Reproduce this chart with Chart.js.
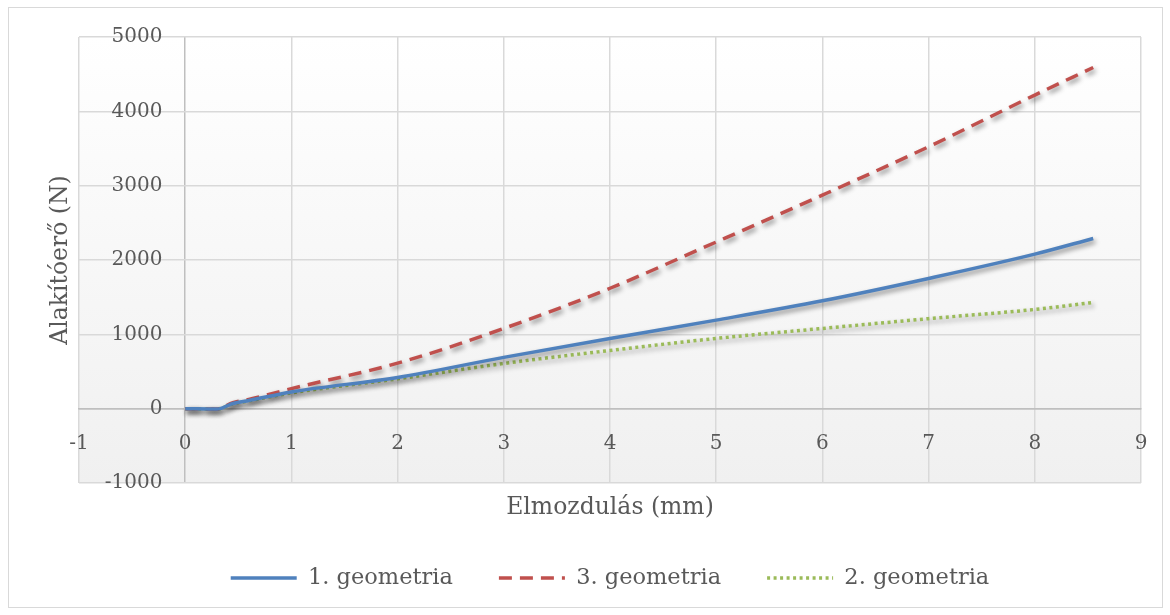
<!DOCTYPE html>
<html lang="hu">
<head>
<meta charset="utf-8">
<title>Alakítóerő – elmozdulás</title>
<script src="https://cdn.jsdelivr.net/npm/chart.js@4.4.0/dist/chart.umd.min.js"></script>
<style>
  html, body { margin: 0; padding: 0; background: #fff; }
  canvas { display: block; }
</style>
</head>
<body>
<canvas id="forceChart" width="1170" height="615"></canvas>
<script>
// Elmozdulás (mm) - közös x értékek
const displacement = [0, 0.3, 0.45, 0.6, 1, 2, 3, 4, 5, 6, 7, 8, 8.55];

// Alakítóerő (N) sorozatonként
const geom1 = [0, -5, 70, 110, 225, 420, 690, 945, 1191, 1451, 1752, 2079, 2290];
const geom3 = [0, -5, 80, 125, 270, 612, 1079, 1620, 2242, 2873, 3524, 4219, 4590];
const geom2 = [0, -5, 65, 105, 212, 401, 608, 783, 945, 1079, 1211, 1335, 1429];

const seriesNames = ['1. geometria', '3. geometria', '2. geometria'];

// tengely feliratok
const xTickValues = [-1, 0, 1, 2, 3, 4, 5, 6, 7, 8, 9];
const yTickValues = [-1000, 0, 1000, 2000, 3000, 4000, 5000];

const FONT = 'DejaVu Serif';
const TEXT_COLOR = '#595959';
const GRID_COLOR = '#d9d9d9';
const AXIS_COLOR = '#bfbfbf';

function toPoints(ys) {
    return displacement.map((x, i) => ({ x: x, y: ys[i] }));
}

// háttér: keret + színátmenetes rajzterület
const plotBackground = {
    id: 'plotBackground',
    beforeDraw(chart) {
        const { ctx, chartArea: a, width, height } = chart;
        ctx.save();
        ctx.fillStyle = '#ffffff';
        ctx.fillRect(0, 0, width, height);
        ctx.strokeStyle = GRID_COLOR;
        ctx.lineWidth = 1;
        ctx.strokeRect(8.5, 7.5, width - 16, height - 15);
        const g = ctx.createLinearGradient(0, a.top, 0, a.bottom);
        g.addColorStop(0, '#ffffff');
        g.addColorStop(1, '#f0f0f0');
        ctx.fillStyle = g;
        ctx.fillRect(a.left, a.top, a.right - a.left, a.bottom - a.top);
        ctx.restore();
    }
};

// árnyék a vonalak alatt
const lineShadow = {
    id: 'lineShadow',
    beforeDatasetDraw(chart) {
        const ctx = chart.ctx;
        ctx.save();
        ctx.shadowColor = 'rgba(0, 0, 0, 0.45)';
        ctx.shadowBlur = 5;
        ctx.shadowOffsetX = 2;
        ctx.shadowOffsetY = 3;
    },
    afterDatasetDraw(chart) {
        chart.ctx.restore();
    }
};

const gridColor = c => (c.tick && c.tick.value === 0 ? AXIS_COLOR : GRID_COLOR);

// jelmagyarázat: a vonal mintája az adatsor szaggatását kövesse
function legendLabels(chart) {
    return Chart.defaults.plugins.legend.labels.generateLabels(chart).map(item => {
        const ds = chart.data.datasets[item.datasetIndex];
        item.lineDash = ds.borderDash || [];
        item.lineWidth = ds.borderWidth;
        item.strokeStyle = ds.borderColor;
        item.lineCap = 'butt';
        return item;
    });
}

const ctx = document.getElementById('forceChart').getContext('2d');

const forceChart = new Chart(ctx, {
    type: 'line',
    data: {
        datasets: [
            {
                label: seriesNames[0],
                data: toPoints(geom1),
                borderColor: '#4f81bd',
                backgroundColor: '#4f81bd',
                borderWidth: 3.5
            },
            {
                label: seriesNames[1],
                data: toPoints(geom3),
                borderColor: '#c0504d',
                backgroundColor: '#c0504d',
                borderWidth: 3.5,
                borderDash: [13, 8]
            },
            {
                label: seriesNames[2],
                data: toPoints(geom2),
                borderColor: '#9bbb59',
                backgroundColor: '#9bbb59',
                borderWidth: 3.5,
                borderDash: [3, 3.5]
            }
        ]
    },
    options: {
        responsive: false,
        devicePixelRatio: 1,
        animation: false,
        parsing: false,
        layout: {
            padding: { left: 10, top: 37, right: 29, bottom: 15.75 }
        },
        elements: {
            point: { radius: 0 },
            line: { fill: false, cubicInterpolationMode: 'monotone' }
        },
        scales: {
            x: {
                type: 'linear',
                position: { y: 0 },
                min: -1,
                max: 9,
                afterBuildTicks: scale => {
                    scale.ticks = xTickValues.map(v => ({ value: v }));
                },
                grid: { color: gridColor, lineWidth: 1.5, tickLength: 20, tickColor: 'transparent' },
                border: { color: AXIS_COLOR, width: 1.5 },
                ticks: {
                    font: { family: FONT, size: 20 },
                    color: TEXT_COLOR,
                    padding: 3,
                    maxRotation: 0,
                    callback: v => String(v)
                }
            },
            y: {
                type: 'linear',
                // a feliratok jobb széle kb. 23 px-re van a függőleges tengelytől
                position: { x: -0.215 },
                min: -1000,
                max: 5000,
                afterBuildTicks: scale => {
                    scale.ticks = yTickValues.map(v => ({ value: v }));
                },
                grid: { color: gridColor, lineWidth: 1.5, drawTicks: false },
                border: { display: false },
                ticks: {
                    font: { family: FONT, size: 20 },
                    color: TEXT_COLOR,
                    callback: v => String(v)
                }
            }
        },
        plugins: {
            legend: {
                position: 'bottom',
                fullSize: false,
                labels: {
                    usePointStyle: true,
                    pointStyle: 'line',
                    pointStyleWidth: 66,
                    padding: 46,
                    color: TEXT_COLOR,
                    font: { family: FONT, size: 22.5 },
                    generateLabels: legendLabels
                }
            },
            title: {
                display: true,
                text: 'Elmozdulás (mm)',
                position: 'bottom',
                fullSize: false,
                weight: 500,
                color: TEXT_COLOR,
                font: { family: FONT, size: 23.5, weight: 'normal', lineHeight: 1 },
                padding: { top: 13.25, bottom: 1 }
            },
            subtitle: {
                display: true,
                text: 'Alakítóerő (N)',
                position: 'left',
                fullSize: false,
                color: TEXT_COLOR,
                font: { family: FONT, size: 23.5, weight: 'normal', lineHeight: 1 },
                padding: { top: 39.25, bottom: 6.25 }
            },
            tooltip: { enabled: false }
        }
    },
    plugins: [plotBackground, lineShadow]
});
</script>
</body>
</html>
